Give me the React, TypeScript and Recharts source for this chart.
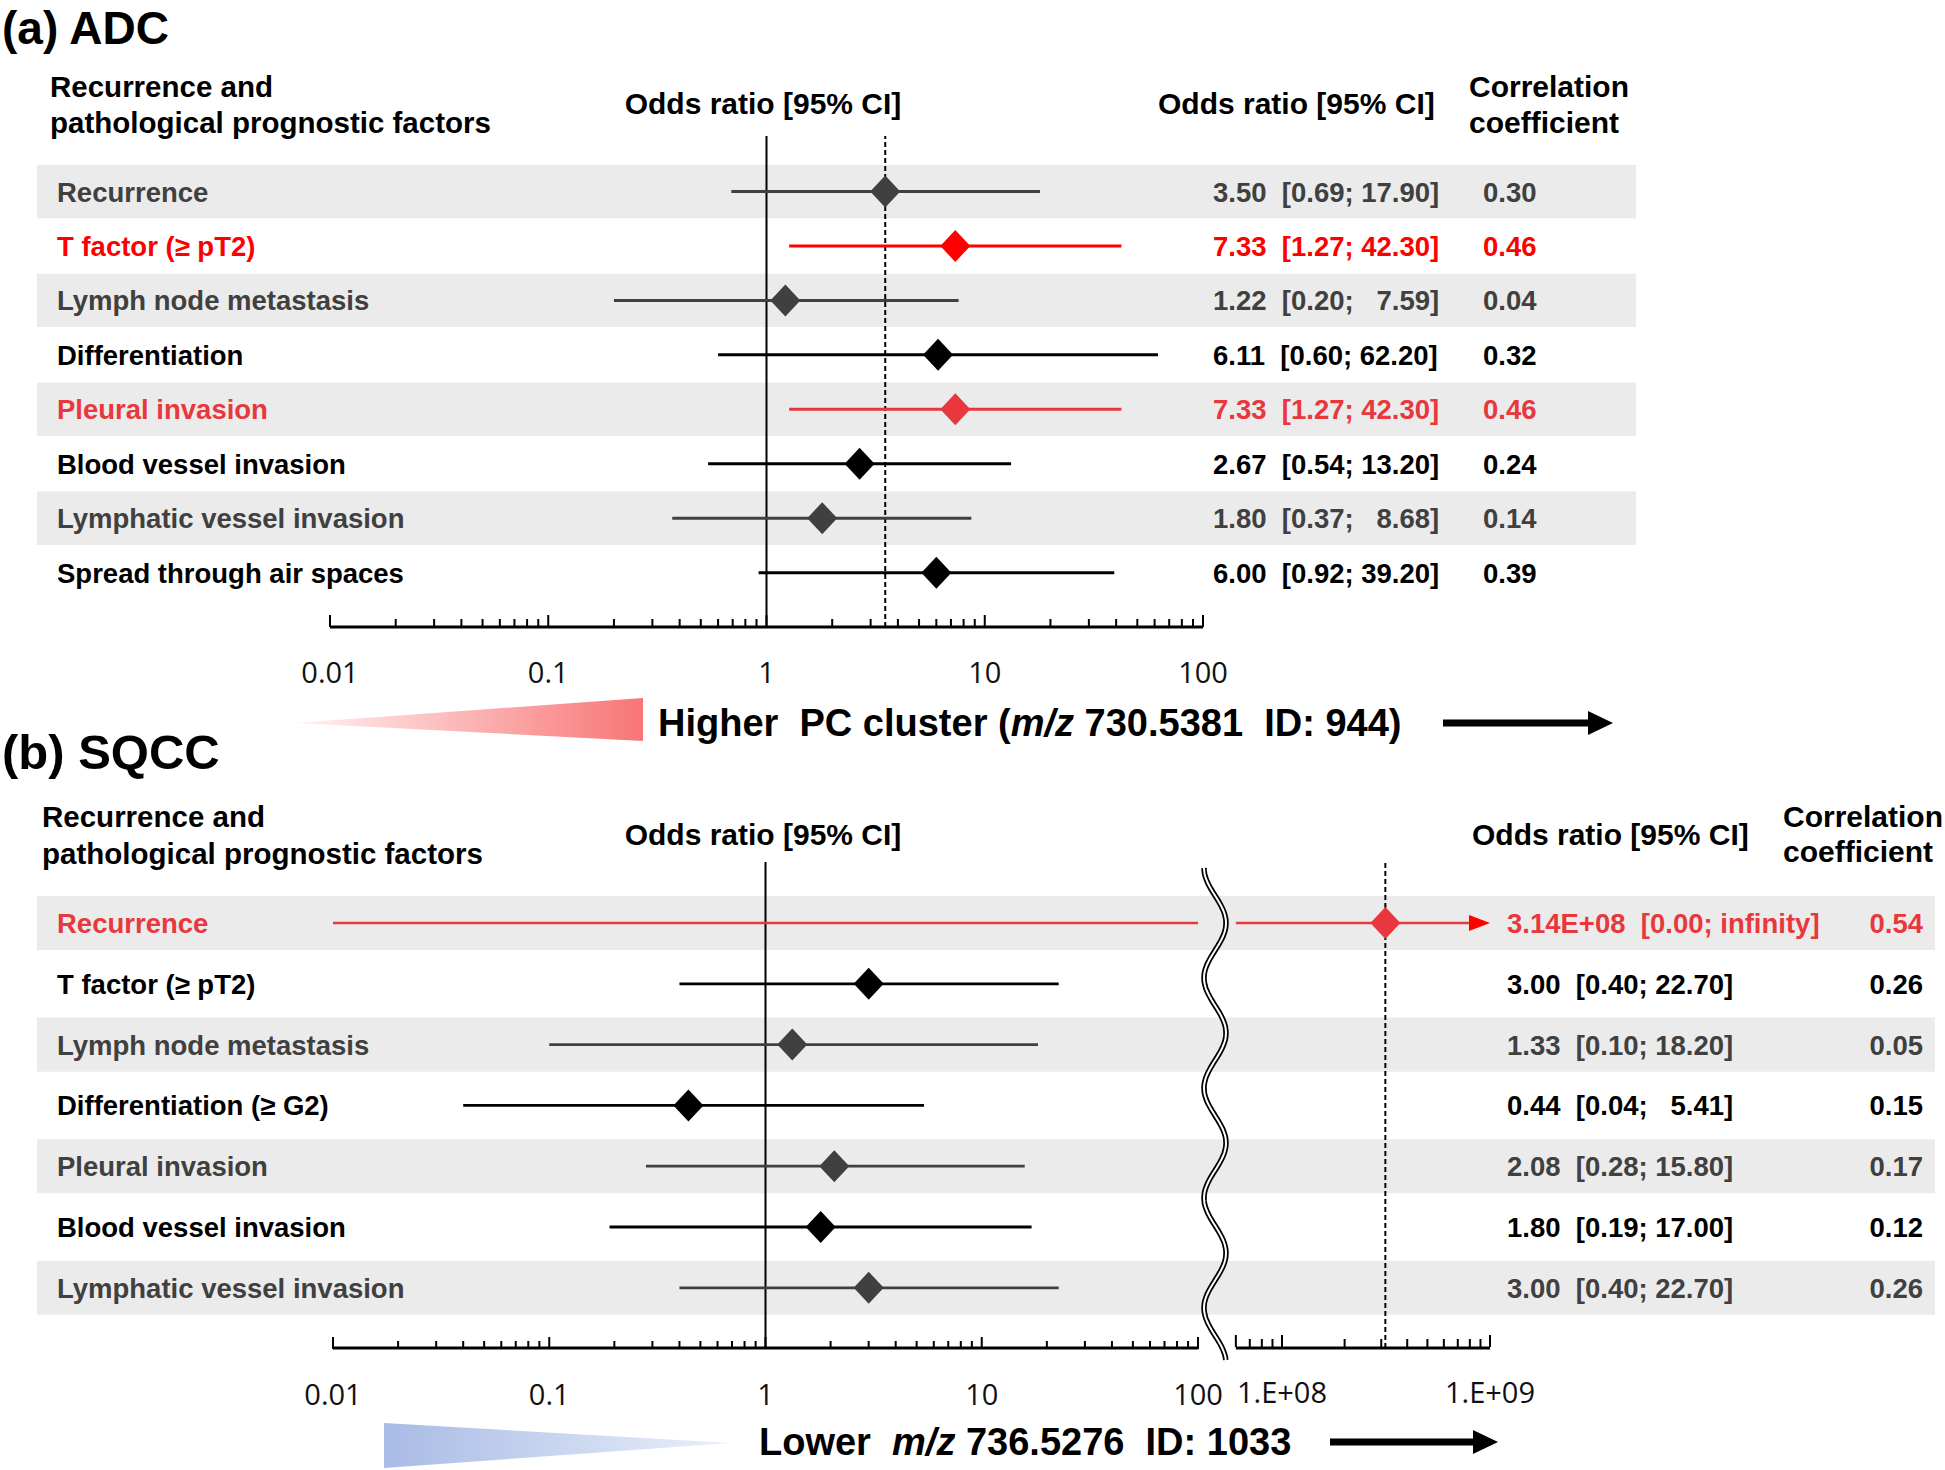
import React from "react";
import {
  ComposedChart,
  XAxis,
  YAxis,
  Scatter,
  ReferenceLine,
  ReferenceArea,
} from "recharts";

// (a) ADC
const adcFactors = [
  "Recurrence",
  "T factor (≥ pT2)",
  "Lymph node metastasis",
  "Differentiation",
  "Pleural invasion",
  "Blood vessel invasion",
  "Lymphatic vessel invasion",
  "Spread through air spaces",
];
const adcOdds = [3.5, 7.33, 1.22, 6.11, 7.33, 2.67, 1.8, 6.0];
const adcLower = [0.69, 1.27, 0.2, 0.6, 1.27, 0.54, 0.37, 0.92];
const adcUpper = [17.9, 42.3, 7.59, 62.2, 42.3, 13.2, 8.68, 39.2];
const adcCorr = [0.3, 0.46, 0.04, 0.32, 0.46, 0.24, 0.14, 0.39];
const adcSignificant = [false, true, false, false, true, false, false, false];

// (b) SQCC
const sqccFactors = [
  "Recurrence",
  "T factor (≥ pT2)",
  "Lymph node metastasis",
  "Differentiation (≥ G2)",
  "Pleural invasion",
  "Blood vessel invasion",
  "Lymphatic vessel invasion",
];
const sqccOdds = [3.14e8, 3.0, 1.33, 0.44, 2.08, 1.8, 3.0];
const sqccLower = [0, 0.4, 0.1, 0.04, 0.28, 0.19, 0.4];
const sqccUpper = [Infinity, 22.7, 18.2, 5.41, 15.8, 17.0, 22.7];
const sqccCorr = [0.54, 0.26, 0.05, 0.15, 0.17, 0.12, 0.26];
const sqccSignificant = [true, false, false, false, false, false, false];

// axis ticks
const lowDecades = [0.01, 0.1, 1, 10, 100];
const lowDecadeLabels = ["0.01", "0.1", "1", "10", "100"];
const highDecades = [1e8, 1e9];
const highDecadeLabels = ["1.E+08", "1.E+09"];
const highStartTicks = [6e7, 7e7, 8e7, 9e7];

const LOW_MIN = lowDecades[0];
const LOW_MAX = lowDecades[lowDecades.length - 1];
const HIGH_MIN = highStartTicks[0];
const HIGH_MAX = highDecades[highDecades.length - 1];

const minors = (decades: number[]) =>
  decades
    .slice(0, -1)
    .flatMap((d) => [2, 3, 4, 5, 6, 7, 8, 9].map((k) => Number((d * k).toPrecision(2))));
const lowTicks = [...lowDecades, ...minors(lowDecades)].sort((a, b) => a - b);
const highTicks = [...highStartTicks, ...highDecades, ...minors(highDecades)].sort((a, b) => a - b);

const FONT = "'Liberation Sans', Arial, Helvetica, sans-serif";
const TICK_FONT = "'Open Sans', 'Liberation Sans', sans-serif";
const BAND = "#ebebeb";

type Row = {
  y: number;
  x: number;
  label: string;
  lo: number;
  hi: number;
  corr: number;
  banded: boolean;
  color: string;
};

function buildRows(
  factors: string[],
  odds: number[],
  lower: number[],
  upper: number[],
  corr: number[],
  sig: boolean[]
): Row[] {
  return factors.map((label, i) => {
    const banded = i % 2 === 0;
    const color = sig[i] ? (banded ? "#e8383d" : "#ff0000") : banded ? "#404040" : "#000000";
    return { y: i, x: odds[i], label, lo: lower[i], hi: upper[i], corr: corr[i], banded, color };
  });
}

const adcRows = buildRows(adcFactors, adcOdds, adcLower, adcUpper, adcCorr, adcSignificant);
const sqccRows = buildRows(sqccFactors, sqccOdds, sqccLower, sqccUpper, sqccCorr, sqccSignificant);

const fmtOdds = (v: number) =>
  v >= 1e4 ? v.toExponential(2).toUpperCase().replace(/E\+(\d)$/, "E+0$1") : v.toFixed(2);
const fmtCi = (lo: number, hi: number) => {
  if (!Number.isFinite(hi)) return `[${lo.toFixed(2)}; infinity]`;
  return `[${lo.toFixed(2)};${hi < 10 ? "   " : " "}${hi.toFixed(2)}]`;
};

type Panel = {
  left: number;
  top: number;
  width: number;
  plotH: number;
  row0: number;
  pitch: number;
  band: number;
  low: [number, number];
  high?: [number, number];
  labelX: number;
  oddsX: number;
  corrX: number;
  corrAnchor: "start" | "end";
  lineW: number;
};

const panelA: Panel = {
  left: 37,
  top: 136,
  width: 1599,
  plotH: 491,
  row0: 55.5,
  pitch: 54.45,
  band: 0.49,
  low: [330, 1203],
  labelX: 57,
  oddsX: 1213,
  corrX: 1483,
  corrAnchor: "start",
  lineW: 3,
};

const panelB: Panel = {
  left: 37,
  top: 862,
  width: 1898,
  plotH: 486,
  row0: 61,
  pitch: 60.8,
  band: 0.445,
  low: [333, 1198],
  high: [1282, 1490],
  labelX: 57,
  oddsX: 1507,
  corrX: 1923,
  corrAnchor: "end",
  lineW: 2.8,
};

// domain of a log axis that spans the whole plot width, given where two values must fall
function logDomain(v0: number, v1: number, px: [number, number], left: number, width: number): [number, number] {
  const a = Math.log10(v0);
  const b = Math.log10(v1);
  const perPx = (b - a) / (px[1] - px[0]);
  return [10 ** (a - (px[0] - left) * perPx), 10 ** (a + (left + width - px[0]) * perPx)];
}

const Diamond = (p: any) => {
  const { cx, cy, payload } = p;
  return (
    <polygon
      points={`${cx},${cy - 16} ${cx + 15},${cy} ${cx},${cy + 16} ${cx - 15},${cy}`}
      fill={payload.color}
    />
  );
};

const ArrowLine = (p: any) => {
  const { x1, y1, x2, y2, stroke, strokeWidth } = p;
  return (
    <g>
      <line x1={x1} y1={y1} x2={x2 - 16} y2={y2} stroke={stroke} strokeWidth={strokeWidth} />
      <polygon points={`${x2},${y2} ${x2 - 21},${y2 - 8} ${x2 - 21},${y2 + 8}`} fill="#ff0000" />
    </g>
  );
};

const axisTick = (majors: number[], decades: number[], labels: string[], lift: number) => (props: any) => {
  const { x, payload } = props;
  const y = props.y - lift;
  const v = payload.value;
  const idx = decades.indexOf(v);
  const tall = majors.includes(v);
  return (
    <g>
      <line x1={x} x2={x} y1={y} y2={y - (tall ? 12 : 8)} stroke="#000" strokeWidth={2} />
      {idx >= 0 && (
        <text x={x} y={y + 56} textAnchor="middle" fontFamily={TICK_FONT} fontSize={29} fill="#111">
          {labels[idx]}
        </text>
      )}
    </g>
  );
};

function ForestPanel({ panel, rows }: { panel: Panel; rows: Row[] }) {
  // the y axis takes 1px on the left, so the chart starts 1px earlier
  const chartLeft = panel.left - 1;
  const axisCount = panel.high ? 2 : 1;
  const yDomain: [number, number] = [
    -panel.row0 / panel.pitch,
    (panel.plotH - panel.row0) / panel.pitch,
  ];
  const yBottom = yDomain[1];
  const lowDomain = logDomain(LOW_MIN, LOW_MAX, panel.low, panel.left, panel.width);
  const highDomain = panel.high
    ? logDomain(highDecades[0], HIGH_MAX, panel.high, panel.left, panel.width)
    : null;
  const lowRows = rows.filter((r) => r.x <= LOW_MAX);
  const highRows = rows.filter((r) => r.x > LOW_MAX);
  const refOdds = rows[0].x;
  const refAxis = refOdds > LOW_MAX ? "high" : "low";

  const rowTick = (props: any) => {
    const r = rows[props.payload.value];
    if (!r) return <g />;
    const y = props.y + 10;
    return (
      <g fontFamily={FONT} fontWeight="bold" fontSize={27.5} fill={r.color}>
        <text x={panel.labelX - chartLeft} y={y} fill={r.color}>
          {r.label}
        </text>
        <text x={panel.oddsX - chartLeft} y={y} fill={r.color} style={{ whiteSpace: "pre" }}>
          {`${fmtOdds(r.x)}  ${fmtCi(r.lo, r.hi)}`}
        </text>
        <text x={panel.corrX - chartLeft} y={y} fill={r.color} textAnchor={panel.corrAnchor}>
          {r.corr.toFixed(2)}
        </text>
      </g>
    );
  };

  return (
    <div style={{ position: "absolute", left: chartLeft, top: panel.top }}>
      <ComposedChart
        width={panel.width + 1}
        height={panel.plotH + 70}
        margin={{ top: 0, right: 0, bottom: 70 - axisCount, left: 0 }}
      >
        <XAxis
          xAxisId="low"
          type="number"
          dataKey="x"
          scale="log"
          domain={lowDomain}
          allowDataOverflow
          ticks={lowTicks}
          interval={0}
          height={1}
          axisLine={false}
          tickLine={false}
          tickSize={0}
          tickMargin={0}
          tick={axisTick(lowDecades, lowDecades, lowDecadeLabels, 0)}
        />
        {highDomain && (
          <XAxis
            xAxisId="high"
            type="number"
            dataKey="x"
            scale="log"
            domain={highDomain}
            allowDataOverflow
            ticks={highTicks}
            interval={0}
            height={1}
            axisLine={false}
            tickLine={false}
            tickSize={0}
            tickMargin={0}
            tick={axisTick([HIGH_MIN, ...highDecades], highDecades, highDecadeLabels, 1)}
          />
        )}
        <YAxis
          yAxisId="row"
          type="number"
          dataKey="y"
          domain={yDomain}
          reversed
          allowDataOverflow
          width={1}
          ticks={rows.map((r) => r.y)}
          interval={0}
          axisLine={false}
          tickLine={false}
          tick={rowTick}
        />

        {rows
          .filter((r) => r.banded)
          .map((r) => (
            <ReferenceArea
              key={`band-${r.y}`}
              xAxisId="low"
              yAxisId="row"
              x1={lowDomain[0]}
              x2={lowDomain[1]}
              y1={r.y - panel.band}
              y2={r.y + panel.band}
              fill={BAND}
              fillOpacity={1}
              stroke="none"
              ifOverflow="visible"
            />
          ))}

        <ReferenceLine xAxisId="low" yAxisId="row" x={1} stroke="#000" strokeWidth={2} ifOverflow="visible" />
        <ReferenceLine
          xAxisId={refAxis}
          yAxisId="row"
          x={refOdds}
          stroke="#000"
          strokeWidth={2}
          strokeDasharray="5 3"
          ifOverflow="visible"
        />

        <ReferenceLine
          xAxisId="low"
          yAxisId="row"
          segment={[
            { x: LOW_MIN, y: yBottom },
            { x: LOW_MAX, y: yBottom },
          ]}
          stroke="#000"
          strokeWidth={3}
          ifOverflow="visible"
        />
        {highDomain && (
          <ReferenceLine
            xAxisId="high"
            yAxisId="row"
            segment={[
              { x: HIGH_MIN, y: yBottom },
              { x: HIGH_MAX, y: yBottom },
            ]}
            stroke="#000"
            strokeWidth={3}
            ifOverflow="visible"
          />
        )}

        {rows.map((r) => (
          <ReferenceLine
            key={`ci-${r.y}`}
            xAxisId="low"
            yAxisId="row"
            segment={[
              { x: Math.max(r.lo, LOW_MIN), y: r.y },
              { x: Math.min(r.hi, LOW_MAX), y: r.y },
            ]}
            stroke={r.color}
            strokeWidth={r.hi > LOW_MAX ? 2.5 : panel.lineW}
            ifOverflow="visible"
          />
        ))}
        {highDomain &&
          rows
            .filter((r) => r.hi > LOW_MAX)
            .map((r) => (
              <ReferenceLine
                key={`ci-high-${r.y}`}
                xAxisId="high"
                yAxisId="row"
                segment={[
                  { x: HIGH_MIN, y: r.y },
                  { x: Math.min(r.hi, HIGH_MAX), y: r.y },
                ]}
                stroke={r.color}
                strokeWidth={2.5}
                ifOverflow="visible"
                shape={r.hi > HIGH_MAX ? ArrowLine : undefined}
              />
            ))}

        <Scatter
          xAxisId="low"
          yAxisId="row"
          data={lowRows}
          shape={Diamond}
          isAnimationActive={false}
        />
        {highDomain && (
          <Scatter
            xAxisId="high"
            yAxisId="row"
            data={highRows}
            shape={Diamond}
            isAnimationActive={false}
          />
        )}
      </ComposedChart>
    </div>
  );
}

function Overlay() {
  const pts: string[] = [];
  for (let y = 868; y <= 1360; y += 3) {
    pts.push(`${(1215 - 11 * Math.cos((2 * Math.PI * (y - 868)) / 110)).toFixed(1)},${y}`);
  }
  const squiggle = `M${pts.join(" L")}`;
  return (
    <svg
      width={1945}
      height={1470}
      style={{ position: "absolute", left: 0, top: 0, pointerEvents: "none" }}
    >
      <defs>
        <linearGradient id="redFade" gradientUnits="userSpaceOnUse" x1={295} x2={643} y1={0} y2={0}>
          <stop offset="0" stopColor="#fff3f3" />
          <stop offset="1" stopColor="#f87575" />
        </linearGradient>
        <linearGradient id="blueFade" gradientUnits="userSpaceOnUse" x1={384} x2={731} y1={0} y2={0}>
          <stop offset="0" stopColor="#a8bbe5" />
          <stop offset="1" stopColor="#eaf0fa" />
        </linearGradient>
      </defs>

      <g fontFamily={FONT} fontWeight="bold" fill="#000">
        <text x={2} y={44} fontSize={46}>(a) ADC</text>
        <text x={50} y={97} fontSize={29.5}>Recurrence and</text>
        <text x={50} y={133} fontSize={29.5}>pathological prognostic factors</text>
        <text x={763} y={114} fontSize={30} textAnchor="middle">Odds ratio [95% CI]</text>
        <text x={1158} y={114} fontSize={30}>Odds ratio [95% CI]</text>
        <text x={1469} y={97} fontSize={30}>Correlation</text>
        <text x={1469} y={133} fontSize={30}>coefficient</text>

        <text x={2} y={769} fontSize={49}>(b) SQCC</text>
        <text x={42} y={827} fontSize={29.5}>Recurrence and</text>
        <text x={42} y={864} fontSize={29.5}>pathological prognostic factors</text>
        <text x={763} y={845} fontSize={30} textAnchor="middle">Odds ratio [95% CI]</text>
        <text x={1472} y={845} fontSize={30}>Odds ratio [95% CI]</text>
        <text x={1783} y={827} fontSize={30}>Correlation</text>
        <text x={1783} y={862} fontSize={30}>coefficient</text>

        <text x={658} y={736} fontSize={38} style={{ whiteSpace: "pre" }}>
          {"Higher  PC cluster ("}
          <tspan fontStyle="italic">m/z</tspan>
          {" 730.5381  ID: 944)"}
        </text>
        <text x={759} y={1455} fontSize={38} style={{ whiteSpace: "pre" }}>
          {"Lower  "}
          <tspan fontStyle="italic">m/z</tspan>
          {" 736.5276  ID: 1033"}
        </text>
      </g>

      <polygon points="295,723 643,698 643,741" fill="url(#redFade)" />
      <polygon points="384,1423 384,1468 731,1443" fill="url(#blueFade)" />

      <rect x={1443} y={719.5} width={148} height={7} fill="#000" />
      <polygon points="1588,711 1613,723 1588,735" fill="#000" />
      <rect x={1330} y={1438.5} width={146} height={7} fill="#000" />
      <polygon points="1473,1430 1498,1442 1473,1454" fill="#000" />

      <path d={squiggle} fill="none" stroke="#000" strokeWidth={5.5} />
      <path d={squiggle} fill="none" stroke="#fff" strokeWidth={2} />
    </svg>
  );
}

export default function App() {
  return (
    <div
      style={{
        position: "absolute",
        left: 0,
        top: 0,
        width: 1945,
        height: 1470,
        background: "#fff",
        overflow: "hidden",
      }}
    >
      <ForestPanel panel={panelA} rows={adcRows} />
      <ForestPanel panel={panelB} rows={sqccRows} />
      <Overlay />
    </div>
  );
}
